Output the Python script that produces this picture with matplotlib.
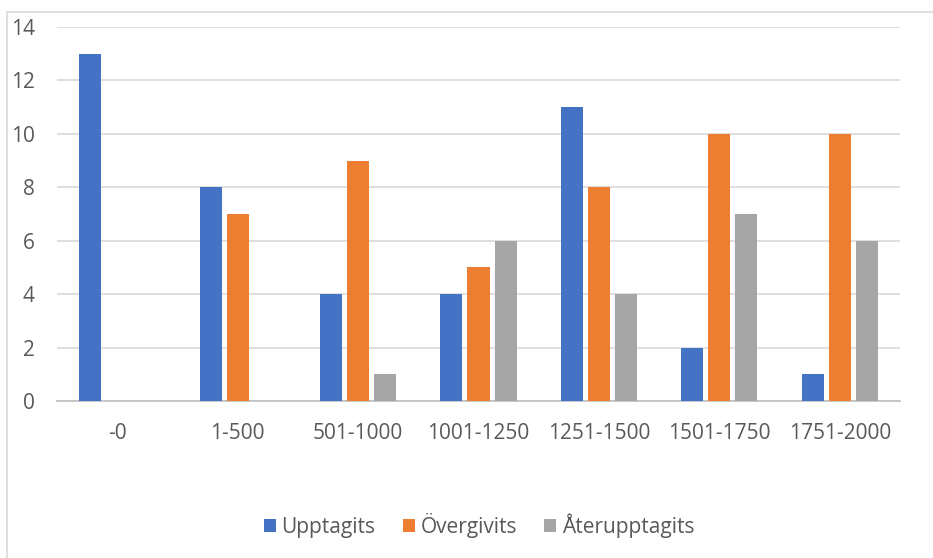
import numpy as np
import matplotlib.pyplot as plt
from matplotlib.patches import Rectangle

categories = ["-0", "1-500", "501-1000", "1001-1250", "1251-1500", "1501-1750", "1751-2000"]
upptagits = [13, 8, 4, 4, 11, 2, 1]
overgivits = [0, 7, 9, 5, 8, 10, 10]
aterupptagits = [0, 0, 1, 6, 4, 7, 6]
series_names = ["Upptagits", "Övergivits", "Återupptagits"]
colors = ["#4472C4", "#ED7D31", "#A5A5A5"]
yticks = [0, 2, 4, 6, 8, 10, 12, 14]

plt.rcParams['font.family'] = ['Open Sans', 'DejaVu Sans']
text_color = "#595959"

fig = plt.figure(figsize=(9.33, 5.58), dpi=100)
ax = fig.add_axes([57 / 933, 1 - 401 / 558, 843 / 933, 374 / 558])

# chart border (only left and top visible in the reference)
fig.patches.append(Rectangle((7 / 933, -0.05), 1.1, 1 - 12 / 558 + 0.05,
                             transform=fig.transFigure, fill=False,
                             edgecolor="#d9d9d9", linewidth=1.2))

x = np.arange(len(categories))
width = 0.183
step = 0.225
for i, (vals, name, col) in enumerate(zip([upptagits, overgivits, aterupptagits], series_names, colors)):
    ax.bar(x + (i - 1) * step, vals, width, color=col, label=name, zorder=3)

ax.set_xlim(-0.5, len(categories) - 0.5)
ax.set_ylim(0, 14)
ax.set_yticks(yticks)
ax.set_xticks(x)
ax.set_xticklabels(categories)
ax.grid(axis="y", color="#d9d9d9", linewidth=1.2, zorder=0)
for s in ["top", "right", "left"]:
    ax.spines[s].set_visible(False)
ax.spines["bottom"].set_color("#bfbfbf")
ax.spines["bottom"].set_linewidth(1.2)
ax.tick_params(axis="both", length=0, labelsize=15, colors=text_color)
ax.tick_params(axis="y", pad=16)
ax.tick_params(axis="x", pad=16)

leg = fig.legend(loc="center", bbox_to_anchor=(479 / 933, 1 - 525 / 558), ncol=3,
                 frameon=False, fontsize=15, handlelength=0.6, handleheight=0.6,
                 handletextpad=0.25, columnspacing=1.3)
for t in leg.get_texts():
    t.set_color(text_color)

fig.savefig("out.png", dpi=100)
